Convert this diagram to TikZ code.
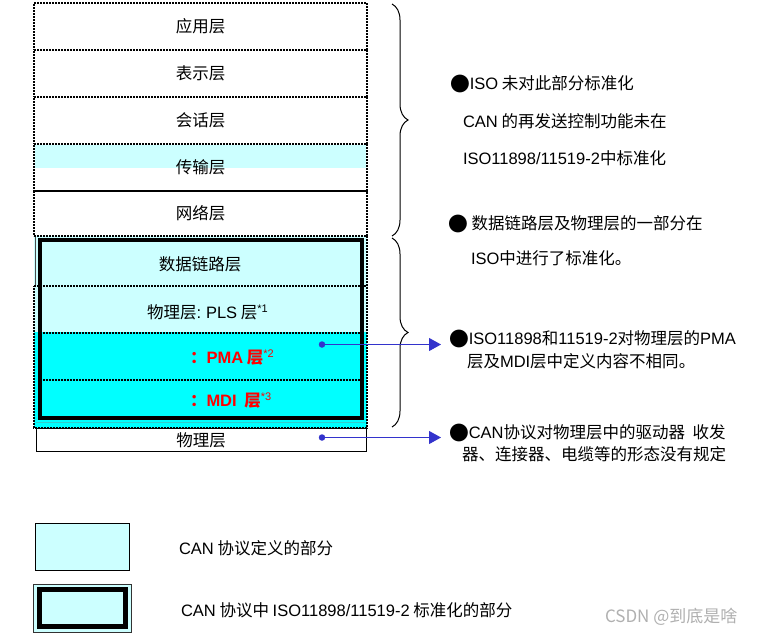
\documentclass[tikz,border=0pt]{standalone}
\usepackage{fontspec}
\setmainfont{Noto Sans CJK SC}
\newfontfamily\lat{Liberation Sans}
\usetikzlibrary{decorations.pathreplacing,arrows.meta}
\definecolor{lcyan}{HTML}{CCFFFF}
\definecolor{fcyan}{HTML}{00FFFF}
\definecolor{teal2}{HTML}{33CCCC}
\definecolor{arrblue}{HTML}{3333CC}
\definecolor{wmgray}{HTML}{B0B0B0}
\newcommand\supsx[1]{\raisebox{6pt}{\fontsize{11}{12}\selectfont\lat\mdseries #1}}
\newcommand\bul{\raisebox{-1.8pt}{\scalebox{1.2}{●}}}
\begin{document}
\begin{tikzpicture}[x=1pt,y=-1pt,
  every node/.style={inner sep=0pt, outer sep=0pt},
  f/.style={font=\fontsize{16.5}{19}\selectfont},
  layerbox/.style={f, draw=black, line width=2pt, dash pattern=on 2pt off 1pt, minimum width=333pt},
  dotline/.style={draw=black, line width=2pt, dash pattern=on 2pt off 1pt},
  redtxt/.style={font=\fontsize{16.5}{19}\selectfont\bfseries, text=red, anchor=west},
  note/.style={f, anchor=west},
  bracestyle/.style={decorate, decoration={brace, amplitude=16pt}, line width=1pt},
  dotnode/.style={circle, fill=arrblue, minimum size=6.5pt},
  arr/.style={draw=arrblue, line width=1pt, -{Triangle[length=12pt,width=13pt]}},
]
\fill[white] (0,0) rectangle (771,635);
\useasboundingbox (0,0) rectangle (771,635);

% upper layers
\fill[lcyan] (35,145) rectangle (366,168);
\node[layerbox, minimum height=47pt] (app) at (200.5,26.5) {应用层};
\node[layerbox, minimum height=47pt] (pres) at (200.5,73.5) {表示层};
\node[layerbox, minimum height=47pt] (sess) at (200.5,120.5) {会话层};
\node[layerbox, minimum height=47pt] (trans) at (200.5,167.5) {传输层};
\node[layerbox, minimum height=45pt] (net) at (200.5,213.5) {网络层};

% lower layers
\fill[lcyan] (34,236) rectangle (367,332);
\fill[fcyan] (34,332) rectangle (367,428);
\draw[teal2, line width=1pt] (36,422.5) -- (365,422.5);
\draw[black!70, line width=0.6pt] (35,237) -- (35,286);
\draw[dotline] (34,236) -- (367,236);
\draw[dotline] (367,236) -- (367,428) -- (34,428) -- (34,286);
\draw[dotline] (34,285.5) -- (367,285.5);
\draw[dotline] (40,332.5) -- (361,332.5);
\draw[dotline] (40,380) -- (361,380);
\draw[line width=4pt] (39.5,240) rectangle (362,418);
\node[f] (dl) at (200,264) {数据链路层};
\node[note] (pls) at (147,312) {物理层{\lat :} {\lat PLS} 层\supsx{*1}};
\node[redtxt] (pma) at (190,358) {：{\lat PMA} 层\supsx{*2}};
\node[redtxt] (mdi) at (190,401) {：{\lat MDI}\ \ 层\supsx{*3}};

\node[draw=black, line width=0.8pt, fill=white, minimum width=330pt, minimum height=23pt, f] (phys) at (201,440) {物理层};

% braces
\draw[bracestyle] (392,4) -- (392,236);
\draw[bracestyle] (392,238) -- (392,427);

% arrows
\node[dotnode] (d1) at (322,344.5) {};
\node[dotnode] (d2) at (322,437.5) {};
\coordinate (t1) at (441,344.5);
\coordinate (t2) at (441,437.5);
\draw[arr] (d1.center) -- (t1);
\draw[arr] (d2.center) -- (t2);

% notes
\node[note] (n1) at (450,84) {\bul{\lat ISO} 未对此部分标准化};
\node[note] (n2) at (463,121) {{\lat CAN} 的再发送控制功能未在};
\node[note] (n3) at (463,158) {{\lat ISO11898/11519-2}中标准化};
\node[note] (n4) at (448,224) {\bul\ 数据链路层及物理层的一部分在};
\node[note] (n5) at (471,258) {{\lat ISO}中进行了标准化。};
\node[note] (n6) at (449,339) {\bul{\lat ISO11898}和{\lat 11519-2}对物理层的{\lat PMA}};
\node[note] (n7) at (467,361) {层及{\lat MDI}层中定义内容不相同。};
\node[note] (n8) at (449,433) {\bul{\lat CAN}协议对物理层中的驱动器\ \ 收发};
\node[note] (n9) at (462,454) {器、连接器、电缆等的形态没有规定};

% legend
\node[draw=black, line width=0.8pt, fill=lcyan, minimum width=94pt, minimum height=47pt] (leg1) at (82,546.5) {};
\node[note] (leg1t) at (179,548) {{\lat CAN} 协议定义的部分};
\node[draw=black!80, line width=0.6pt, fill=lcyan, minimum width=98pt, minimum height=48pt] (leg2) at (82,608) {};
\node[draw=black, line width=5pt, fill=lcyan, minimum width=86pt, minimum height=37pt] (leg2in) at (82,608) {};
\node[note] (leg2t) at (181,610) {{\lat CAN} 协议中 {\lat ISO11898/11519-2} 标准化的部分};
\node[anchor=west, font=\fontsize{17}{20}\selectfont, text=wmgray] (wm) at (605,617) {CSDN @到底是啥};
\end{tikzpicture}
\end{document}
